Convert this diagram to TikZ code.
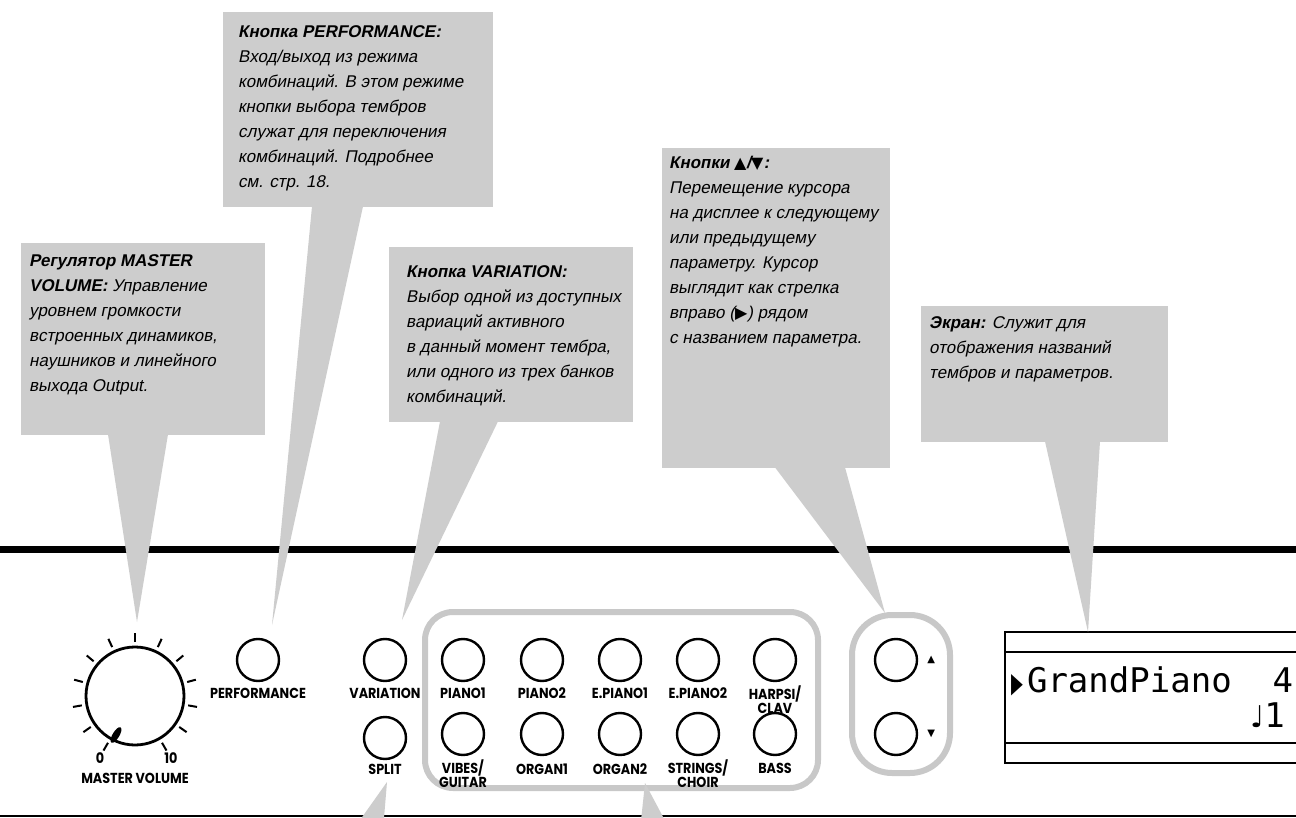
\documentclass[tikz,border=0pt]{standalone}
\usepackage{graphicx}
\usepackage{fontspec}
\setmainfont{Liberation Sans}[
  ItalicFont=Liberation Sans, ItalicFeatures={FakeSlant=0.2},
  BoldItalicFont=Liberation Sans Bold, BoldItalicFeatures={FakeSlant=0.2}]
\newfontfamily\symfont{DejaVu Sans}
\newfontfamily\lcdfont{DejaVu Sans Mono}
\newfontfamily\panelfont[FakeStretch=0.88]{Poppins}
\usetikzlibrary{positioning}
\definecolor{calloutgray}{RGB}{205,205,205}
\definecolor{framegray}{RGB}{200,200,200}
\tikzset{
  callout/.style={fill=calloutgray, draw=none},
  calloutbox/.style={callout, anchor=north west, inner sep=0pt},
  callouttext/.style={anchor=north west, inner sep=0pt, align=left,
    font=\itshape\fontsize{17}{25}\selectfont},
  key/.style={circle, draw, line width=2.4pt, minimum size=42pt, inner sep=0pt},
  keylabel/.style={anchor=north, inner sep=0pt, align=center,
    font=\panelfont\bfseries\fontsize{14.5}{10}\selectfont,
    execute at begin node=\vphantom{(}},
  keygroup/.style={draw=framegray, line width=6pt, inner sep=0pt},
}
\newcommand{\tri}[1]{{\symfont\upshape\fontsize{16}{25}\selectfont #1}}
\begin{document}
\begin{tikzpicture}[x=1pt,y=-1pt]
  \clip (0,0) rectangle (1296,818);
  \fill[white] (0,0) rectangle (1296,818);

  % линии панели
  \draw[line width=7pt] (0,549) -- (1296,549); % верхняя
  \draw[line width=2pt] (0,816) -- (1296,816); % нижняя

  % регулятор MASTER VOLUME
  \node[circle, draw, line width=2.8pt, minimum size=98pt, inner sep=0pt] (knob) at (135,696) {};
  \foreach \a in {240,215,...,-60}
    \draw[line width=2pt] (knob.center) ++(\a:54pt) -- ++(\a:9pt);
  \filldraw[line width=1.5pt, rotate around={59:(116,735)}] (116,735) ellipse [x radius=8pt, y radius=2.6pt];
  \node[keylabel] (zero) at (100,750) {0};
  \node[keylabel] (ten) at (171,750) {10};
  \node[keylabel] (mvlabel) at (135,770) {MASTER VOLUME};

  % кнопки PERFORMANCE, VARIATION, SPLIT
  \node[key] (perf) at (258,660) {};
  \node[keylabel, below=3pt of perf] (perflabel) {PERFORMANCE};
  \node[key] (var) at (385,660) {};
  \node[keylabel, below=3pt of var] (varlabel) {VARIATION};
  \node[key] (split) at (385,738) {};
  \node[keylabel, below=1pt of split] (splitlabel) {SPLIT};

  % группа кнопок тембров
  \node[keygroup, rounded corners=28pt, minimum width=393pt, minimum height=176pt] (voices) at (621.5,700) {};
  \foreach \x [count=\i] in {463,542,620,698,775} {
    \node[key] (up\i) at (\x,660) {};
    \node[key] (dn\i) at (\x,734) {};
  }
  \node[keylabel, below=3pt of up1] (l1) {PIANO1};
  \node[keylabel, below=3pt of up2] (l2) {PIANO2};
  \node[keylabel, below=3pt of up3] (l3) {E.PIANO1};
  \node[keylabel, below=3pt of up4] (l4) {E.PIANO2};
  \node[keylabel, below=3pt of up5] (l5) {HARPSI/\\CLAV};
  \node[keylabel, below=3pt of dn1] (l6) {VIBES/\\GUITAR};
  \node[keylabel, below=5pt of dn2] (l7) {ORGAN1};
  \node[keylabel, below=5pt of dn3] (l8) {ORGAN2};
  \node[keylabel, below=3pt of dn4] (l9) {STRINGS/\\CHOIR};
  \node[keylabel, below=4pt of dn5] (l10) {BASS};

  % кнопки курсора
  \node[keygroup, rounded corners=40pt, minimum width=98pt, minimum height=158pt] (cursor) at (901,694) {};
  \node[key] (upkey) at (896,660) {};
  \node[key] (downkey) at (896,734) {};
  \node[right=9pt of upkey, inner sep=0pt, font=\symfont\fontsize{10}{10}\selectfont] (uptri) {▲};
  \node[right=9pt of downkey, inner sep=0pt, font=\symfont\fontsize{10}{10}\selectfont] (dntri) {▼};

  % экран
  \draw[line width=2pt] (1310,632) -| (1005,763) -- (1310,763);
  \draw[line width=2pt] (1005,652) -- (1310,652);
  \draw[line width=2pt] (1005,743) -- (1310,743);
  \node[anchor=base west, inner sep=0pt, font=\lcdfont\fontsize{34}{34}\selectfont] (lcdtop) at (1011,692)
    {\scalebox{0.55}[1]{\symfont\fontsize{28}{28}\selectfont ▶}\hspace{4pt}GrandPiano\ \ 4};
  \node[anchor=base west, inner sep=0pt, font=\lcdfont\fontsize{34}{34}\selectfont] (lcdbot) at (1250,727)
    {{\symfont\fontsize{30}{30}\selectfont ♩}1};

  % выноски
  \node[calloutbox, minimum width=244pt, minimum height=192pt] (mvbox) at (21,243) {};
  \node[callouttext] (mvtext) at ([xshift=8pt, yshift=-5.5pt]mvbox.north west)
    {\strut\textbf{Регулятор MASTER}\\\textbf{VOLUME:} Управление\\уровнем громкости\\встроенных динамиков,\\наушников и линейного\\выхода Output.};
  \node[calloutbox, minimum width=270pt, minimum height=195pt] (perfbox) at (223,12) {};
  \node[callouttext] (perftext) at ([xshift=15pt, yshift=-7.5pt]perfbox.north west)
    {\strut\textbf{Кнопка PERFORMANCE:}\\Вход/выход из режима\\комбинаций. В этом режиме\\кнопки выбора тембров\\служат для переключения\\комбинаций. Подробнее\\см. стр. 18.};
  \node[calloutbox, minimum width=244pt, minimum height=175pt] (varbox) at (389,247) {};
  \node[callouttext] (vartext) at ([xshift=17pt, yshift=-12.5pt]varbox.north west)
    {\strut\textbf{Кнопка VARIATION:}\\Выбор одной из доступных\\вариаций активного\\в данный момент тембра,\\или одного из трех банков\\комбинаций.};
  \node[calloutbox, minimum width=228pt, minimum height=320pt] (cursorbox) at (662,148) {};
  \node[callouttext] (cursortext) at ([xshift=7pt, yshift=-2.5pt]cursorbox.north west)
    {\strut\textbf{Кнопки \tri{▲}/\tri{▼}:}\\Перемещение курсора\\на дисплее к следующему\\или предыдущему\\параметру. Курсор\\выглядит как стрелка\\вправо (\tri{▶}) рядом\\с названием параметра.};
  \node[calloutbox, minimum width=247pt, minimum height=136pt] (screenbox) at (921,306) {};
  \node[callouttext] (screentext) at ([xshift=8pt, yshift=-4.5pt]screenbox.north west)
    {\strut\textbf{Экран:} Служит для\\отображения названий\\тембров и параметров.};

  % указатели выносок
  \coordinate (mvtip) at (137,622);
  \coordinate (perftip) at (272,625);
  \coordinate (vartip) at (402,620);
  \coordinate (cursortip) at (885,613);
  \coordinate (screentip) at (1088,632);
  \coordinate (splittip) at (387,782);
  \coordinate (voicetip) at (645,783);
  \fill[callout] ([xshift=87pt, yshift=1pt]mvbox.south west) -- ([xshift=147pt, yshift=1pt]mvbox.south west) -- (mvtip) -- cycle;
  \fill[callout] ([xshift=89pt, yshift=1pt]perfbox.south west) -- ([xshift=140pt, yshift=1pt]perfbox.south west) -- (perftip) -- cycle;
  \fill[callout] ([xshift=51pt, yshift=1pt]varbox.south west) -- ([xshift=109pt, yshift=1pt]varbox.south west) -- (vartip) -- cycle;
  \fill[callout] ([xshift=113pt, yshift=1pt]cursorbox.south west) -- ([xshift=183pt, yshift=1pt]cursorbox.south west) -- (cursortip) -- cycle;
  \fill[callout] ([xshift=124pt, yshift=1pt]screenbox.south west) -- ([xshift=179pt, yshift=1pt]screenbox.south west) -- (screentip) -- cycle;
  \fill[callout] (353,830) -- (383,830) -- (splittip) -- cycle;
  \fill[callout] (640,830) -- (670,830) -- (voicetip) -- cycle;
\end{tikzpicture}
\end{document}
